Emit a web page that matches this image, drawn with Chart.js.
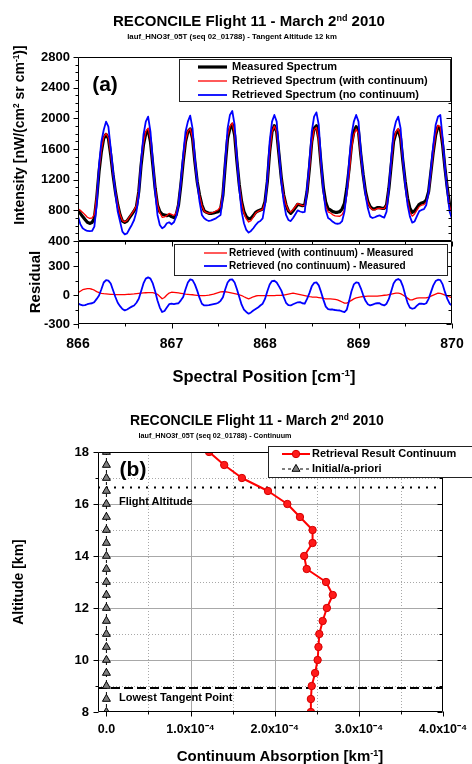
<!DOCTYPE html>
<html>
<head>
<meta charset="utf-8">
<script src="https://cdn.jsdelivr.net/npm/chart.js@4.4.1/dist/chart.umd.min.js"></script>
<style>
  html, body { margin: 0; padding: 0; background: #fff; }
  body { width: 472px; height: 764px; position: relative; overflow: hidden;
         font-family: "Liberation Sans", Arial, sans-serif; font-weight: bold; color: #000; }
  canvas { position: absolute; left: 0; }
  .t, .l, .v { position: absolute; white-space: nowrap; line-height: 1; }
  .t { transform: translate(-50%, -50%); }
  .l { transform: translateY(-50%); }
  .v { transform: translate(-50%, -50%) rotate(-90deg); }
  sup { font-size: 60%; vertical-align: baseline; position: relative; top: -0.6em; }
</style>
</head>
<body>
<canvas id="spec" width="472" height="250" style="top:0"></canvas>
<canvas id="resid" width="472" height="170" style="top:230px"></canvas>
<canvas id="cont" width="472" height="324" style="top:440px"></canvas>

<div class="t" style="left:249px;top:20px;font-size:15px">RECONCILE Flight 11 - March 2<sup>nd</sup> 2010</div>
<div class="t" style="left:232px;top:37px;font-size:7.8px">lauf_HNO3f_05T (seq 02_01788) - Tangent Altitude 12 km</div>
<div class="t" style="left:105px;top:83px;font-size:21px">(a)</div>
<div class="v" style="left:19px;top:135px;font-size:14px">Intensity [nW/(cm<sup>2</sup> sr cm<sup>-1</sup>)]</div>
<div class="v" style="left:34px;top:282px;font-size:15px">Residual</div>
<div class="t" style="left:264px;top:376px;font-size:16.5px">Spectral Position [cm<sup>-1</sup>]</div>

<div class="t" style="left:257px;top:420px;font-size:14px">RECONCILE Flight 11 - March 2<sup>nd</sup> 2010</div>
<div class="t" style="left:215px;top:436px;font-size:7.2px">lauf_HNO3f_05T (seq 02_01788) - Continuum</div>
<div class="t" style="left:133px;top:468px;font-size:21px">(b)</div>
<div class="l" style="left:119px;top:501px;font-size:11px">Flight Altitude</div>
<div class="l" style="left:119px;top:697px;font-size:11px">Lowest Tangent Point</div>
<div class="v" style="left:18px;top:582px;font-size:14px">Altitude [km]</div>
<div class="t" style="left:280px;top:755px;font-size:15px">Continuum Absorption [km<sup>-1</sup>]</div>

<script>
const FONT = '"Liberation Sans", Arial, sans-serif';

// spectral sampling: 866.000 ... 870.000 cm-1
const spectralStart = 866;
const spectralStep = 0.025;

const measured = [
  795, 760, 718, 680, 644, 630, 640, 696, 957, 1305,
  1565, 1739, 1791, 1739, 1522, 1261, 1044, 870, 740, 661,
  644, 661, 705, 748, 792, 848, 1044, 1392, 1652, 1804,
  1848, 1696, 1392, 1087, 870, 783, 748, 740, 731, 740,
  718, 705, 740, 870, 1131, 1435, 1696, 1826, 1861, 1739,
  1435, 1174, 1000, 870, 792, 774, 761, 761, 765, 774,
  783, 818, 1000, 1392, 1739, 1870, 1922, 1783, 1435, 1131,
  913, 783, 718, 687, 696, 731, 774, 792, 805, 818,
  913, 1174, 1565, 1826, 1904, 1826, 1522, 1218, 1000, 870,
  792, 761, 792, 835, 879, 870, 861, 870, 1044, 1348,
  1696, 1870, 1904, 1739, 1392, 1087, 900, 820, 805, 783,
  774, 774, 783, 818, 892, 1087, 1348, 1652, 1826, 1891,
  1826, 1522, 1261, 1044, 913, 848, 818, 818, 835, 835,
  826, 826, 870, 1087, 1392, 1696, 1804, 1848, 1739, 1435,
  1174, 957, 826, 774, 792, 835, 879, 896, 905, 935,
  1044, 1305, 1565, 1783, 1891, 1870, 1652, 1348, 1087, 870,
  792
];

const retrievedWithCont = [
  820, 800, 773, 742, 710, 696, 700, 746, 993, 1331,
  1583, 1753, 1803, 1749, 1530, 1267, 1049, 875, 745, 666,
  649, 668, 713, 758, 804, 863, 1062, 1412, 1674, 1828,
  1873, 1722, 1417, 1105, 878, 768, 709, 715, 731, 760,
  747, 733, 765, 892, 1149, 1449, 1706, 1834, 1866, 1742,
  1435, 1171, 995, 864, 787, 771, 761, 766, 775, 792,
  808, 850, 1036, 1426, 1769, 1895, 1942, 1798, 1445, 1134,
  908, 765, 688, 648, 666, 713, 764, 786, 800, 813,
  908, 1169, 1560, 1821, 1899, 1822, 1519, 1216, 1000, 875,
  802, 776, 811, 850, 889, 875, 861, 864, 1032, 1331,
  1676, 1849, 1882, 1713, 1362, 1052, 861, 780, 765, 741,
  729, 724, 723, 746, 808, 1003, 1278, 1597, 1786, 1861,
  1801, 1502, 1246, 1031, 901, 836, 806, 806, 823, 827,
  821, 824, 870, 1092, 1402, 1711, 1823, 1867, 1754, 1435,
  1159, 925, 776, 724, 752, 802, 850, 867, 875, 907,
  1019, 1293, 1565, 1793, 1910, 1888, 1662, 1348, 1077, 850,
  763
];

const retrievedNoCont = [
  720, 620, 566, 545, 531, 528, 531, 587, 870, 1392,
  1696, 1848, 1957, 1891, 1609, 1305, 1022, 783, 653, 522,
  487, 500, 557, 609, 674, 783, 1000, 1435, 1783, 1957,
  2022, 1826, 1435, 1044, 740, 609, 566, 587, 631, 644,
  618, 644, 718, 870, 1174, 1522, 1826, 1957, 2035, 1870,
  1478, 1174, 913, 740, 696, 674, 661, 670, 683, 696,
  718, 740, 1000, 1435, 1870, 2044, 2096, 1913, 1478, 1087,
  783, 631, 544, 509, 531, 566, 609, 644, 661, 696,
  870, 1218, 1696, 1957, 2044, 1957, 1565, 1174, 913, 740,
  674, 660, 700, 750, 800, 785, 775, 780, 1087, 1435,
  1826, 2022, 2078, 1913, 1435, 1044, 800, 700, 680, 650,
  630, 625, 630, 660, 783, 1044, 1435, 1783, 1957, 2044,
  1957, 1565, 1261, 1000, 826, 718, 700, 710, 725, 735,
  718, 705, 783, 1087, 1478, 1826, 1957, 2022, 1870, 1478,
  1131, 870, 718, 640, 655, 725, 790, 805, 815, 870,
  1044, 1348, 1652, 1913, 2022, 2044, 1739, 1348, 1044, 783,
  690
];

const residualWithCont = [
  25, 40, 55, 62, 66, 66, 60, 50, 36, 26,
  18, 14, 12, 10, 8, 6, 5, 5, 5, 5,
  5, 7, 8, 10, 12, 15, 18, 20, 22, 24,
  25, 26, 25, 18, 8, -15, -39, -25, 0, 20,
  29, 28, 25, 22, 18, 14, 10, 8, 5, 3,
  0, -3, -5, -6, -5, -3, 0, 5, 10, 18,
  25, 32, 36, 34, 30, 25, 20, 15, 10, 3,
  -5, -18, -30, -39, -30, -18, -10, -6, -5, -5,
  -5, -5, -5, -5, -5, -4, -3, -2, 0, 5,
  10, 15, 19, 15, 10, 5, 0, -6, -12, -17,
  -20, -21, -22, -26, -30, -35, -39, -40, -40, -42,
  -45, -50, -60, -72, -84, -84, -70, -55, -40, -30,
  -25, -20, -15, -13, -12, -12, -12, -12, -12, -8,
  -5, -2, 0, 5, 10, 15, 19, 19, 15, 0,
  -15, -32, -50, -50, -40, -33, -29, -29, -30, -28,
  -25, -12, 0, 10, 19, 18, 10, 0, -10, -20,
  -29
];

const residualNoCont = [
  -84, -100, -108, -105, -95, -90, -85, -73, -40, -5,
  60, 130, 155, 150, 120, 50, -20, -80, -115, -145,
  -159, -150, -135, -120, -108, -80, -39, 40, 120, 170,
  183, 170, 120, 40, -56, -130, -176, -165, -130, -95,
  -90, -95, -90, -85, -55, -20, 60, 130, 162, 155,
  110, 46, -30, -90, -108, -107, -105, -100, -95, -90,
  -80, -60, -22, 60, 130, 160, 162, 130, 60, -20,
  -100, -150, -175, -193, -180, -160, -145, -130, -108, -90,
  -40, 40, 110, 145, 148, 130, 90, 46, -20, -80,
  -105, -108, -95, -85, -75, -73, -85, -90, -40, 20,
  90, 125, 131, 100, 30, -50, -120, -145, -150, -150,
  -155, -158, -160, -170, -176, -150, -60, 40, 110, 131,
  125, 70, 0, -60, -95, -108, -100, -90, -85, -84,
  -100, -108, -90, -40, 40, 120, 155, 166, 150, 90,
  0, -80, -130, -142, -135, -110, -90, -90, -95, -85,
  -40, 30, 100, 145, 159, 155, 110, 30, -40, -90,
  -108
];

// continuum profile
const altitudes = [18, 17.5, 17, 16.5, 16, 15.5, 15, 14.5, 14, 13.5, 13,
                   12.5, 12, 11.5, 11, 10.5, 10, 9.5, 9, 8.5, 8];
const continuum = [1.22e-4, 1.40e-4, 1.61e-4, 1.92e-4, 2.15e-4, 2.30e-4, 2.45e-4,
                   2.45e-4, 2.35e-4, 2.38e-4, 2.61e-4, 2.69e-4, 2.62e-4, 2.57e-4,
                   2.53e-4, 2.52e-4, 2.51e-4, 2.48e-4, 2.44e-4, 2.43e-4, 2.43e-4];
const apriori = [0, 0, 0, 0, 0, 0, 0, 0, 0, 0, 0, 0, 0, 0, 0, 0, 0, 0, 0, 0, 0];
const flightAltitude = 16.63;
const lowestTangent = 8.92;

// axis ticks
const spectralTicks = [866, 867, 868, 869, 870];
const spectralMinor = [866.5, 867.5, 868.5, 869.5];
const intensityTicks = [400, 800, 1200, 1600, 2000, 2400, 2800];
const intensityMinor = [];
for (let v = 500; v < 2800; v += 100) if (v % 400) intensityMinor.push(v);
const residualTicks = [-300, 0, 300];
const residualMinor = [-150, 150, 450];
const altitudeTicks = [8, 10, 12, 14, 16, 18];
const altitudeMinor = [9, 11, 13, 15, 17];
const absorptionTicks = [0, 1e-4, 2e-4, 3e-4, 4e-4];
const absorptionMinor = [0.5e-4, 1.5e-4, 2.5e-4, 3.5e-4];
const absorptionMin = -0.1e-4;
const absorptionMax = 4e-4;

const spectral = measured.map((_, i) => spectralStart + i * spectralStep);
const pts = ys => ys.map((y, i) => ({ x: spectral[i], y }));
const profile = xs => xs.map((x, i) => ({ x, y: altitudes[i] }));
const fixTicks = vals => s => { s.ticks = vals.map(value => ({ value })); };

// fixed axis sizes; label overhang must not shrink the plot area
const fixWidth = w => s => { s.width = w; s.paddingTop = 0; s.paddingBottom = 0; };
const fixHeight = h => s => { s.height = h; s.paddingLeft = 0; s.paddingRight = 0; };

// box frame with major/minor tick marks on the chosen sides
const frameTicks = {
  id: 'frameTicks',
  afterDatasetsDraw(chart, args, opts) {
    const { ctx, chartArea: a } = chart;
    const { x, y } = chart.scales;
    const L = Math.round(a.left) + 0.5, R = Math.round(a.right) - 0.5;
    const T = Math.round(a.top) + 0.5, B = Math.round(a.bottom) - 0.5;
    ctx.save();
    ctx.strokeStyle = '#000';
    ctx.lineWidth = 1;
    ctx.setLineDash([]);
    ctx.beginPath();
    ctx.rect(L, T, R - L, B - T);
    Object.entries(opts.sides || {}).forEach(([side, dir]) => {
      const horiz = side === 'top' || side === 'bottom';
      const scale = horiz ? x : y;
      const sign = dir === 'out' ? 1 : -1;
      const add = (vals, len) => vals.forEach(v => {
        const p = Math.round(scale.getPixelForValue(v)) + 0.5;
        if (side === 'left') { ctx.moveTo(L, p); ctx.lineTo(L - sign * len, p); }
        if (side === 'right') { ctx.moveTo(R, p); ctx.lineTo(R + sign * len, p); }
        if (side === 'top') { ctx.moveTo(p, T); ctx.lineTo(p, T - sign * len); }
        if (side === 'bottom') { ctx.moveTo(p, B); ctx.lineTo(p, B + sign * len); }
      });
      add(horiz ? opts.xMajor : opts.yMajor, 5);
      add(horiz ? opts.xMinor : opts.yMinor, 3);
    });
    ctx.stroke();
    ctx.restore();
  }
};

// solid and dotted grid lines behind the data
const gridLines = {
  id: 'gridLines',
  beforeDatasetsDraw(chart, args, opts) {
    if (!opts.xSolid) return;
    const { ctx, chartArea: a } = chart;
    const { x, y } = chart.scales;
    const run = (xs, ys, dash) => {
      ctx.setLineDash(dash);
      ctx.beginPath();
      xs.forEach(v => { const p = Math.round(x.getPixelForValue(v)) + 0.5; ctx.moveTo(p, a.top); ctx.lineTo(p, a.bottom); });
      ys.forEach(v => { const p = Math.round(y.getPixelForValue(v)) + 0.5; ctx.moveTo(a.left, p); ctx.lineTo(a.right, p); });
      ctx.stroke();
    };
    ctx.save();
    ctx.strokeStyle = '#a8a8a8';
    ctx.lineWidth = 1;
    run(opts.xSolid, opts.ySolid, []);
    run(opts.xDotted, opts.yDotted, [1, 2]);
    ctx.restore();
  }
};

// framed legend; samples use the dataset's own styles
const boxLegend = {
  id: 'boxLegend',
  afterDraw(chart, args, opts) {
    if (!opts.box) return;
    const ctx = chart.ctx;
    const [x1, y1, x2, y2] = opts.box;
    ctx.save();
    ctx.fillStyle = '#fff';
    ctx.fillRect(x1, y1, x2 - x1, y2 - y1);
    ctx.strokeStyle = '#222';
    ctx.lineWidth = 1;
    ctx.strokeRect(x1 + 0.5, y1 + 0.5, x2 - x1, y2 - y1);
    ctx.font = `bold ${opts.fontSize}px ${FONT}`;
    ctx.textBaseline = 'middle';
    opts.rows.forEach(r => {
      const ds = chart.data.datasets[r.dataset];
      ctx.strokeStyle = ds.borderColor;
      ctx.lineWidth = ds.borderWidth;
      ctx.setLineDash(ds.borderDash || []);
      ctx.beginPath();
      ctx.moveTo(opts.lineFrom, r.y);
      ctx.lineTo(opts.lineTo, r.y);
      ctx.stroke();
      ctx.setLineDash([]);
      if (ds.pointRadius) {
        ctx.fillStyle = ds.pointBackgroundColor;
        ctx.strokeStyle = ds.pointBorderColor;
        ctx.lineWidth = ds.pointBorderWidth;
        Chart.helpers.drawPoint(ctx, { pointStyle: ds.pointStyle, radius: ds.pointRadius, rotation: 0, borderWidth: ds.pointBorderWidth },
          (opts.lineFrom + opts.lineTo) / 2, r.y);
      }
      ctx.fillStyle = '#000';
      ctx.fillText(ds.label, opts.textX, r.y);
    });
    ctx.restore();
  }
};

Chart.defaults.font.family = FONT;
Chart.defaults.color = '#000';

const tickFont = size => ({ family: FONT, size, weight: 'bold' });
const plain = v => String(v);
const base = {
  responsive: false,
  animation: false,
  devicePixelRatio: 1,
  events: [],
  elements: { point: { radius: 0 }, line: { tension: 0, borderJoinStyle: 'round' } },
};

// (a) measured and retrieved spectra
new Chart(document.getElementById('spec'), {
  type: 'line',
  data: {
    datasets: [
      { label: 'Measured Spectrum', data: pts(measured), borderColor: '#000', borderWidth: 3.2, order: 3 },
      { label: 'Retrieved Spectrum (with continuum)', data: pts(retrievedWithCont), borderColor: '#ff0000', borderWidth: 1.3, order: 2 },
      { label: 'Retrieved Spectrum (no continuum)', data: pts(retrievedNoCont), borderColor: '#0000ff', borderWidth: 1.8, order: 1 },
    ]
  },
  options: {
    ...base,
    layout: { autoPadding: false, padding: { left: 0, right: 20, top: 57, bottom: 9 } },
    plugins: {
      legend: { display: false }, tooltip: { enabled: false },
      frameTicks: { sides: { left: 'out', right: 'in' }, xMajor: spectralTicks, xMinor: spectralMinor, yMajor: intensityTicks, yMinor: intensityMinor },
      boxLegend: { box: [179, 59, 450, 101], fontSize: 11, lineFrom: 198, lineTo: 227, textX: 232,
                   rows: [{ dataset: 0, y: 67 }, { dataset: 1, y: 81 }, { dataset: 2, y: 95 }] },
    },
    scales: {
      x: { type: 'linear', min: 866, max: 870, display: false },
      y: {
        min: 400, max: 2800,
        afterFit: fixWidth(78),
        afterBuildTicks: fixTicks(intensityTicks),
        ticks: { padding: 8, font: tickFont(13), callback: plain },
        grid: { display: false, drawTicks: false }, border: { display: false },
      },
    },
  },
  plugins: [frameTicks, boxLegend],
});

// (a) residuals
new Chart(document.getElementById('resid'), {
  type: 'line',
  data: {
    datasets: [
      { label: 'Retrieved (with continuum) - Measured', data: pts(residualWithCont), borderColor: '#ff0000', borderWidth: 1.3, order: 2 },
      { label: 'Retrieved (no continuum) - Measured', data: pts(residualNoCont), borderColor: '#0000ff', borderWidth: 1.8, order: 1 },
    ]
  },
  options: {
    ...base,
    layout: { autoPadding: false, padding: { left: 0, right: 20, top: 11, bottom: 0 } },
    plugins: {
      legend: { display: false }, tooltip: { enabled: false },
      frameTicks: { sides: { left: 'out', right: 'in', top: 'in', bottom: 'out' }, xMajor: spectralTicks, xMinor: spectralMinor, yMajor: residualTicks, yMinor: residualMinor },
      boxLegend: { box: [174, 14, 447, 45], fontSize: 10, lineFrom: 204, lineTo: 227, textX: 229,
                   rows: [{ dataset: 0, y: 23 }, { dataset: 1, y: 36 }] },
    },
    scales: {
      x: {
        type: 'linear', min: 866, max: 870,
        afterFit: fixHeight(76),
        afterBuildTicks: fixTicks(spectralTicks),
        ticks: { padding: 12, maxRotation: 0, font: tickFont(14), callback: plain },
        grid: { display: false, drawTicks: false }, border: { display: false },
      },
      y: {
        min: -300, max: 560,
        afterFit: fixWidth(78),
        afterBuildTicks: fixTicks(residualTicks),
        ticks: { padding: 8, font: tickFont(13), callback: plain },
        grid: { display: false, drawTicks: false }, border: { display: false },
      },
    },
  },
  plugins: [frameTicks, boxLegend],
});

// (b) continuum profile
new Chart(document.getElementById('cont'), {
  type: 'line',
  data: {
    datasets: [
      { label: 'Retrieval Result Continuum', data: profile(continuum), borderColor: '#ff0000', borderWidth: 2,
        pointStyle: 'circle', pointRadius: 3.7, pointBackgroundColor: '#ff1a1a', pointBorderColor: '#d40000', pointBorderWidth: 1, order: 1 },
      { label: 'Initial/a-priori', data: profile(apriori), borderColor: '#000', borderWidth: 1, borderDash: [3, 3],
        pointStyle: 'triangle', pointRadius: 4.6, pointBackgroundColor: '#7f7f7f', pointBorderColor: '#000', pointBorderWidth: 1, order: 2 },
      { label: 'Flight Altitude', data: [{ x: absorptionMin, y: flightAltitude }, { x: absorptionMax, y: flightAltitude }],
        borderColor: '#000', borderWidth: 2, borderDash: [2, 6], order: 3 },
      { label: 'Lowest Tangent Point', data: [{ x: absorptionMin, y: lowestTangent }, { x: absorptionMax, y: lowestTangent }],
        borderColor: '#000', borderWidth: 2, borderDash: [9, 4], order: 3 },
    ]
  },
  options: {
    ...base,
    layout: { autoPadding: false, padding: { left: 0, right: 29, top: 12, bottom: 0 } },
    plugins: {
      legend: { display: false }, tooltip: { enabled: false },
      gridLines: { xSolid: [1e-4, 2e-4, 3e-4], ySolid: [10, 12, 14, 16], xDotted: absorptionMinor, yDotted: altitudeMinor },
      frameTicks: { sides: { left: 'out', right: 'in', bottom: 'out' }, xMajor: absorptionTicks, xMinor: absorptionMinor, yMajor: altitudeTicks, yMinor: altitudeMinor },
      boxLegend: { box: [268, 6, 480, 37], fontSize: 11, lineFrom: 282, lineTo: 310, textX: 312,
                   rows: [{ dataset: 0, y: 14 }, { dataset: 1, y: 29 }] },
    },
    scales: {
      x: {
        type: 'linear', min: absorptionMin, max: absorptionMax,
        afterFit: fixHeight(52),
        afterBuildTicks: fixTicks(absorptionTicks),
        ticks: { padding: 10, maxRotation: 0, autoSkip: false, font: tickFont(12.5),
                 callback: v => v === 0 ? '0.0' : (v * 1e4).toFixed(1) + 'x10⁻⁴' },
        grid: { display: false, drawTicks: false }, border: { display: false },
      },
      y: {
        min: 8, max: 18,
        afterFit: fixWidth(98),
        afterBuildTicks: fixTicks(altitudeTicks),
        ticks: { padding: 9, font: tickFont(13), callback: plain },
        grid: { display: false, drawTicks: false }, border: { display: false },
      },
    },
  },
  plugins: [gridLines, frameTicks, boxLegend],
});
</script>
</body>
</html>
